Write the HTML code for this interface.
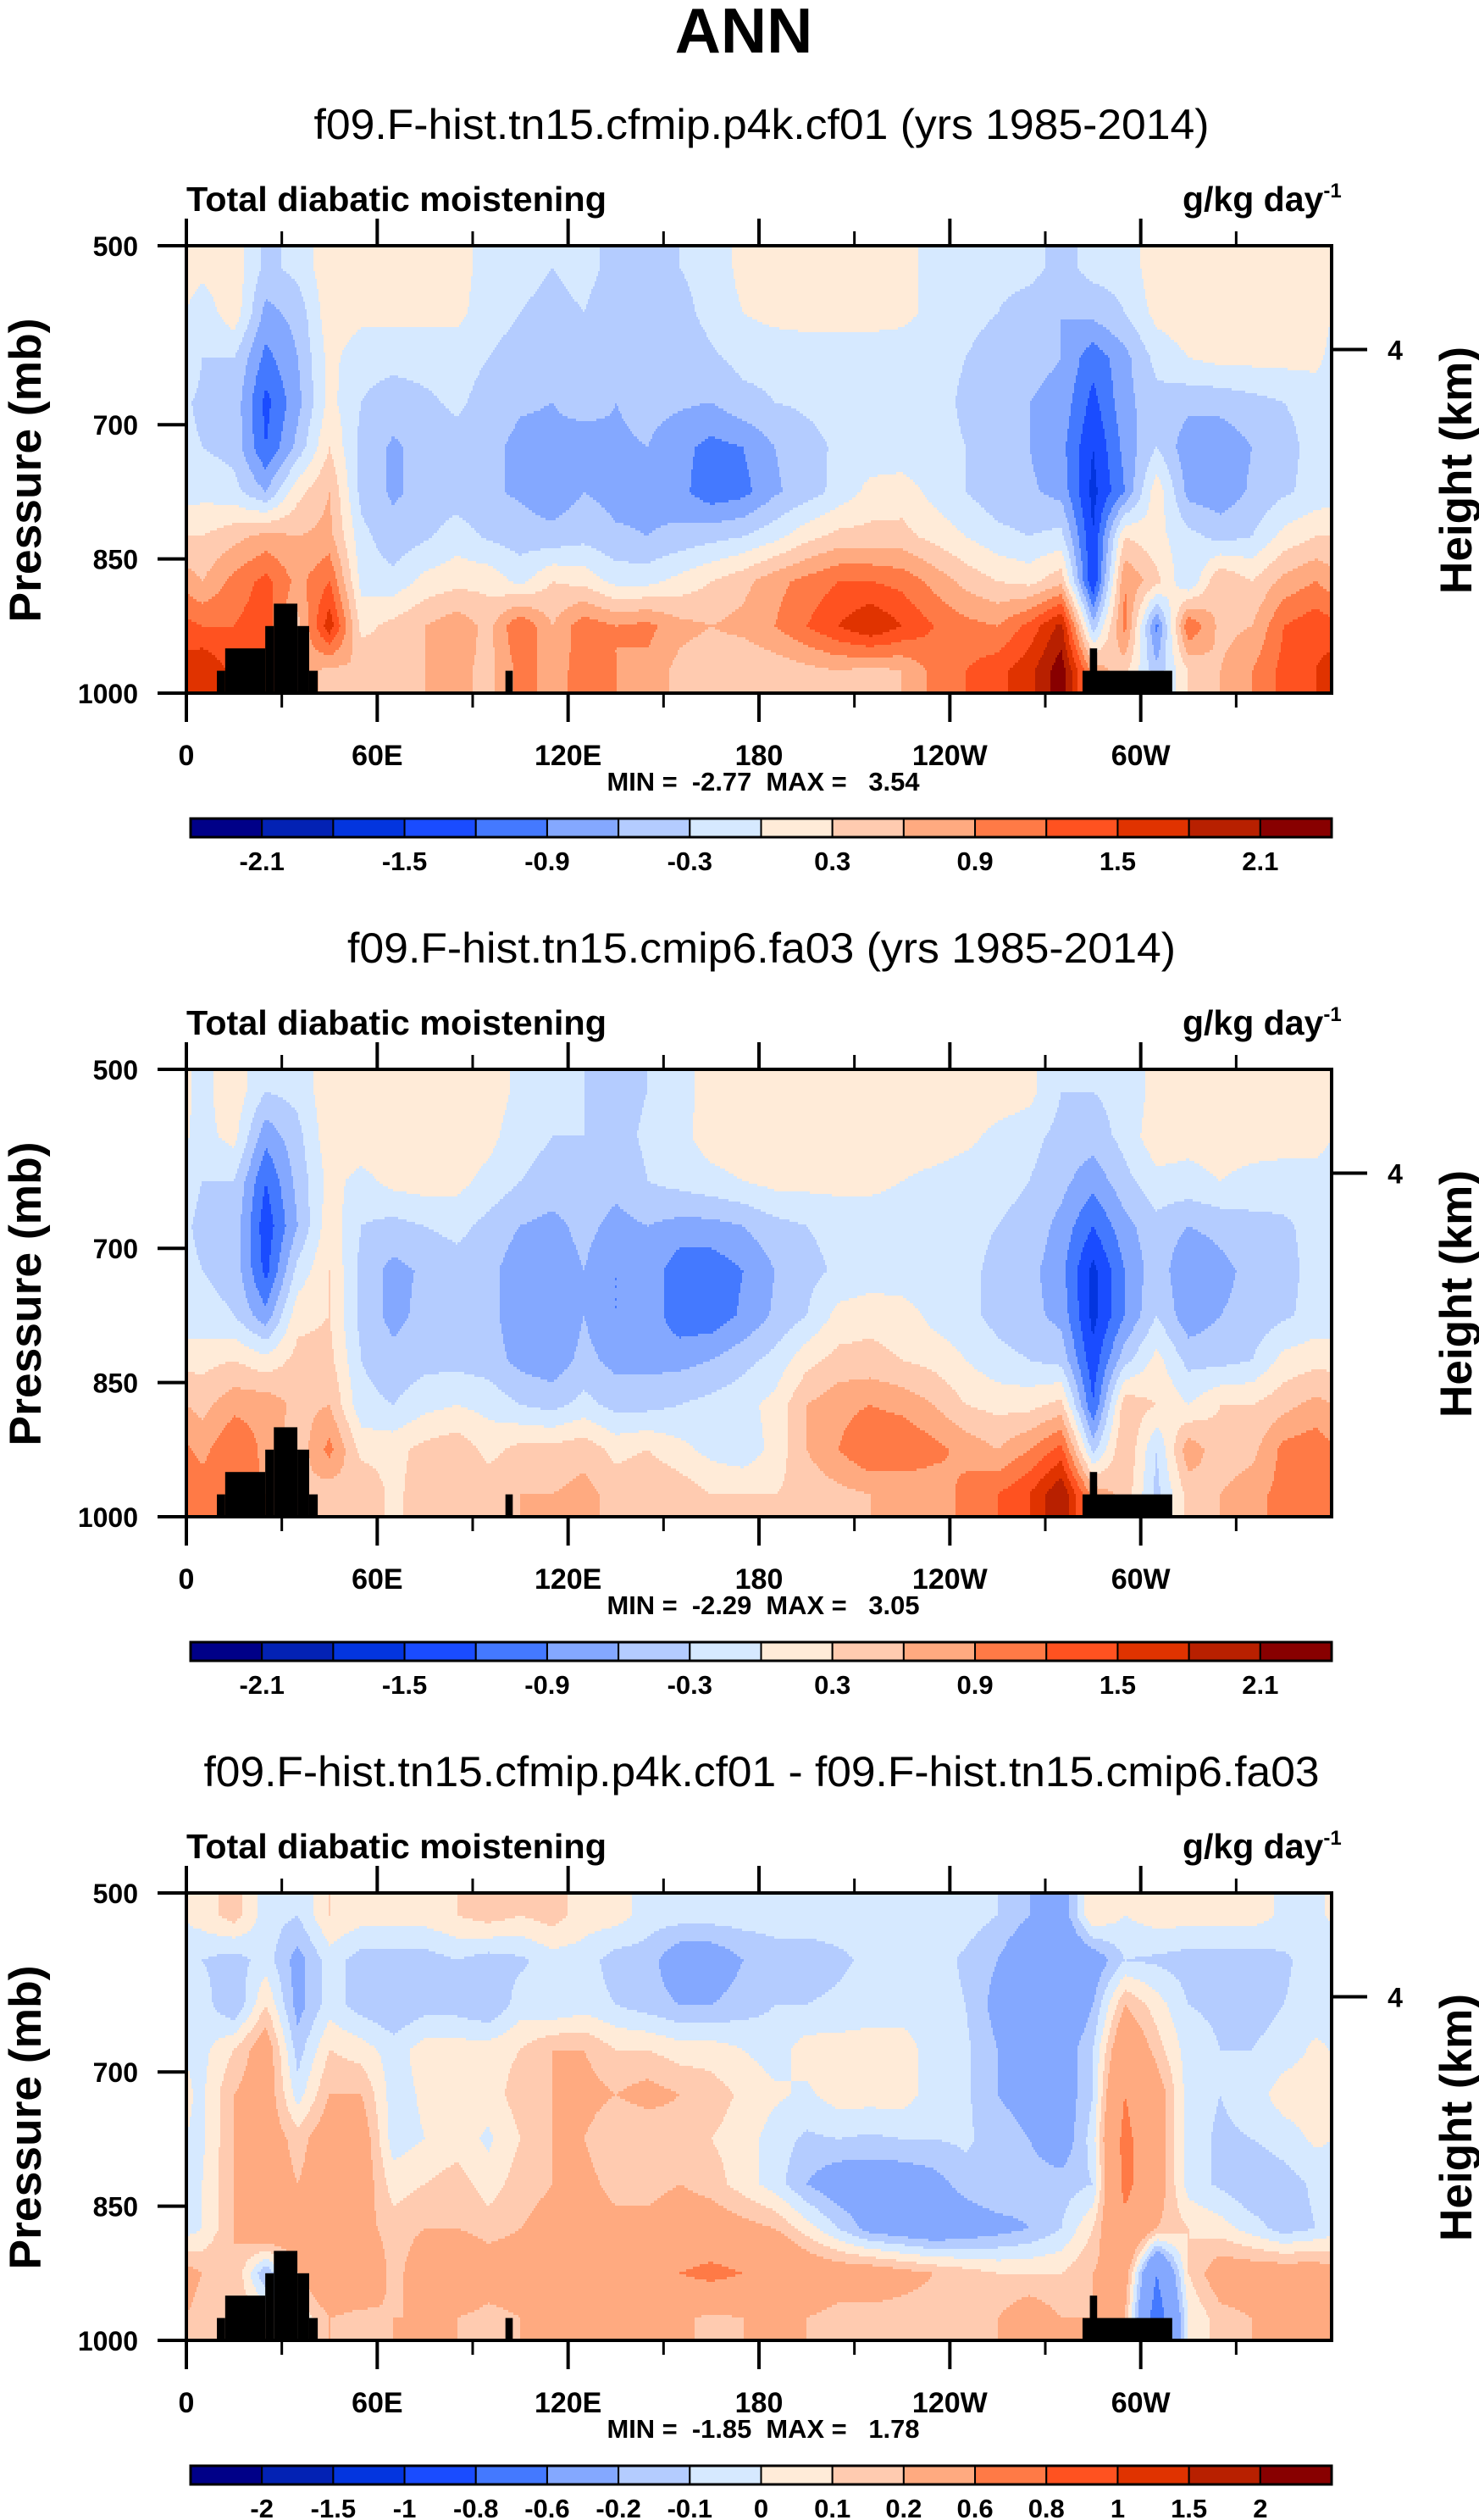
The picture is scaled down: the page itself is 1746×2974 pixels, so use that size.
<!DOCTYPE html>
<html>
<head>
<meta charset="utf-8">
<style>
html,body{margin:0;padding:0;background:#fff;}
svg{display:block;font-family:"Liberation Sans",Arial,sans-serif;}
.pre{white-space:pre;}
</style>
</head>
<body>
<svg id="fig" width="1746" height="2974" viewBox="0 0 1746 2974" xmlns="http://www.w3.org/2000/svg">
<rect x="0" y="0" width="1746" height="2974" fill="#fff"/>
<text x="878" y="62" text-anchor="middle" font-size="75" font-weight="bold">ANN</text>
</svg>
<script>
// ---- data ----
const lonTicksMajor = [0, 60, 120, 180, 240, 300];
const lonTickLabels = ["0", "60E", "120E", "180", "120W", "60W"];
const lonTicksMinor = [30, 90, 150, 210, 270, 330];
const presTicks = [500, 700, 850, 1000];
const heightTickP = [616];
const heightTickLabels = ["4"];

const levelsAbs = [-2.1,-1.8,-1.5,-1.2,-0.9,-0.6,-0.3,0,0.3,0.6,0.9,1.2,1.5,1.8,2.1];
const levelsAbsLabels = ["-2.1","","-1.5","","-0.9","","-0.3","","0.3","","0.9","","1.5","","2.1"];
const levelsDiff = [-2,-1.5,-1,-0.8,-0.6,-0.2,-0.1,0,0.1,0.2,0.6,0.8,1,1.5,2];
const levelsDiffLabels = ["-2","-1.5","-1","-0.8","-0.6","-0.2","-0.1","0","0.1","0.2","0.6","0.8","1","1.5","2"];
const palette = ["#000088","#0322B4","#0335DF","#1A4CFF","#4479FF","#84A8FF","#B4CCFF","#D6E9FF","#FFEBD8","#FFCBB0","#FFAA80","#FF7A46","#FF5220","#E03300","#B82000","#880000"];

// rows: 525,575,...,975 mb ; columns: lon centers 5,15,...,355
const p1Values = [
[0.1,0.2,-0.4,-0.2,0.2,0.2,0.2,0.2,0.2,-0.2,-0.2,-0.3,-0.2,-0.4,-0.4,-0.3,-0.2,0.1,0.2,0.2,0.2,0.2,0.2,-0.2,-0.2,-0.2,-0.2,-0.4,-0.2,-0.2,0.2,0.2,0.2,0.2,0.2,0.2],
[-0.2,0.2,-0.7,-0.5,0.2,0.1,0.1,0.1,0.1,-0.2,-0.3,-0.4,-0.3,-0.5,-0.3,-0.4,-0.2,0.0,0.1,0.15,0.15,0.15,0.1,-0.1,-0.2,-0.3,-0.45,-0.6,-0.5,-0.3,0.1,0.2,0.2,0.2,0.2,0.2],
[-0.3,-0.3,-1.0,-0.6,0.1,-0.2,-0.2,-0.2,-0.2,-0.3,-0.4,-0.5,-0.4,-0.6,-0.4,-0.5,-0.35,-0.2,-0.2,-0.2,-0.2,-0.2,-0.2,-0.2,-0.3,-0.45,-0.5,-0.6,-1.1,-0.7,-0.2,0.0,0.1,0.1,0.1,0.1],
[-0.35,-0.4,-1.3,-0.7,0.1,-0.3,-0.45,-0.35,-0.25,-0.4,-0.55,-0.6,-0.45,-0.6,-0.5,-0.55,-0.6,-0.4,-0.3,-0.25,-0.2,-0.2,-0.2,-0.2,-0.35,-0.5,-0.6,-0.7,-1.3,-0.7,-0.4,-0.5,-0.5,-0.4,-0.3,-0.2],
[-0.3,-0.4,-1.2,-0.5,0.3,-0.4,-0.65,-0.5,-0.4,-0.5,-0.7,-0.7,-0.8,-0.65,-0.6,-0.8,-1.0,-0.9,-0.6,-0.4,-0.25,-0.2,-0.2,-0.2,-0.3,-0.5,-0.6,-0.8,-1.5,-0.8,-0.3,-0.8,-0.8,-0.6,-0.4,-0.2],
[-0.1,-0.2,-0.6,0.2,0.6,-0.4,-0.65,-0.5,-0.45,-0.55,-0.65,-0.8,-0.6,-0.7,-0.7,-0.8,-1.1,-1.0,-0.65,-0.45,-0.2,0.1,0.15,-0.1,-0.3,-0.5,-0.55,-0.7,-1.6,-0.9,0.2,-0.7,-0.8,-0.55,-0.35,-0.2],
[0.3,0.5,0.7,0.6,0.7,-0.2,-0.5,-0.35,-0.15,-0.35,-0.45,-0.5,-0.4,-0.55,-0.6,-0.5,-0.4,-0.3,-0.1,0.2,0.4,0.4,0.4,0.2,0.0,-0.2,-0.3,-0.2,-1.5,0.3,0.1,-0.2,-0.4,-0.3,0.1,0.3],
[0.6,1.0,1.3,0.8,1.2,-0.1,-0.2,0.1,0.2,0.2,-0.1,0.3,0.2,-0.1,-0.1,0.1,0.3,0.5,0.8,1.0,1.2,1.2,1.1,0.8,0.5,0.3,0.2,0.5,-1.5,0.9,0.4,-0.3,0.6,0.3,0.7,0.9],
[1.2,1.2,1.4,0.5,1.7,0.2,0.4,0.6,0.8,0.5,1.2,0.6,1.1,0.9,1.0,0.7,0.6,0.7,0.9,1.2,1.5,1.8,1.5,1.2,1.0,0.9,1.3,1.9,-0.5,1.0,-1.0,1.2,0.5,0.6,1.2,1.4],
[1.8,1.4,1.0,0.8,0.5,0.6,0.3,0.6,0.7,0.5,1.0,0.8,1.0,0.9,0.8,0.5,0.4,0.3,0.4,0.5,0.6,0.5,0.6,1.0,1.2,1.4,1.7,2.3,0.8,0.4,-0.5,0.3,0.6,0.9,1.3,1.5]
];
const p2Values = [
[-0.1,0.2,-0.3,-0.2,0.2,0.2,0.2,0.2,0.2,0.2,-0.1,-0.3,-0.3,-0.4,-0.3,-0.1,0.1,0.2,0.2,0.2,0.2,0.2,0.2,0.2,0.2,0.2,0.1,-0.3,-0.3,-0.2,0.1,0.2,0.2,0.2,0.2,0.2],
[-0.1,0.1,-0.8,-0.4,0.2,0.2,0.2,0.2,0.2,0.1,-0.2,-0.3,-0.3,-0.4,-0.25,-0.1,0.15,0.2,0.2,0.2,0.2,0.2,0.2,0.2,0.1,-0.1,-0.2,-0.4,-0.45,-0.2,0.2,0.1,0.15,0.15,0.15,0.15],
[-0.3,-0.3,-1.2,-0.5,0.1,-0.1,0.1,0.15,0.1,-0.1,-0.3,-0.4,-0.4,-0.5,-0.3,-0.2,-0.1,0.0,0.1,0.1,0.1,0.1,0.0,-0.1,-0.2,-0.2,-0.3,-0.5,-0.8,-0.4,-0.1,-0.1,0.0,-0.1,-0.15,-0.15],
[-0.35,-0.4,-1.4,-0.6,0.2,-0.3,-0.4,-0.3,-0.2,-0.4,-0.6,-0.7,-0.5,-0.7,-0.6,-0.7,-0.7,-0.6,-0.4,-0.3,-0.2,-0.2,-0.2,-0.2,-0.2,-0.3,-0.4,-0.7,-1.2,-0.7,-0.4,-0.6,-0.5,-0.4,-0.35,-0.2],
[-0.3,-0.4,-1.3,-0.2,0.3,-0.4,-0.7,-0.55,-0.45,-0.5,-0.8,-0.8,-0.6,-0.9,-0.7,-1.1,-1.1,-0.9,-0.6,-0.4,-0.25,-0.2,-0.2,-0.2,-0.2,-0.4,-0.5,-0.8,-1.6,-0.9,-0.4,-0.9,-0.7,-0.5,-0.4,-0.2],
[-0.2,-0.3,-0.8,0.2,0.3,-0.4,-0.7,-0.5,-0.45,-0.5,-0.8,-0.9,-0.6,-0.9,-0.7,-1.1,-1.1,-0.85,-0.55,-0.3,0.1,0.2,0.15,-0.1,-0.2,-0.4,-0.5,-0.7,-1.6,-0.9,-0.3,-0.8,-0.6,-0.5,-0.35,-0.2],
[0.2,0.3,0.1,0.4,0.4,-0.3,-0.5,-0.4,-0.4,-0.45,-0.7,-0.8,-0.5,-0.7,-0.7,-0.7,-0.6,-0.4,-0.2,0.2,0.4,0.4,0.3,0.2,0.0,-0.2,-0.3,-0.4,-1.4,-0.4,0.1,-0.4,-0.4,-0.3,0.1,0.2],
[0.5,0.8,0.8,0.5,0.6,-0.2,-0.3,-0.1,0.0,-0.1,-0.3,-0.4,-0.2,-0.4,-0.4,-0.3,-0.2,-0.1,0.1,0.6,0.8,0.9,0.8,0.6,0.3,0.2,0.2,0.4,-1.2,0.5,0.3,0.0,0.3,0.3,0.5,0.7],
[0.8,1.2,0.8,0.4,1.0,0.2,0.2,0.4,0.5,0.2,0.4,0.4,0.5,0.2,0.3,0.1,-0.1,-0.2,0.1,0.6,0.9,1.2,1.2,1.0,0.8,0.6,0.9,1.3,-0.4,0.6,-0.3,0.8,0.4,0.5,1.0,1.1],
[1.1,1.0,0.9,0.6,0.4,0.6,0.2,0.5,0.6,0.5,0.6,0.6,0.7,0.5,0.6,0.5,0.3,0.3,0.3,0.4,0.5,0.6,0.6,0.7,1.0,1.2,1.5,2.1,0.8,0.5,-0.4,0.4,0.6,0.8,1.0,1.1]
];
const p3Values = [
[0.05,0.15,-0.05,-0.1,0.1,0.05,0.05,0.05,0.1,0.15,0.1,0.15,0.05,0.05,-0.05,-0.05,-0.05,-0.05,-0.05,-0.05,-0.05,-0.05,-0.05,-0.05,-0.05,-0.1,-0.2,-0.3,0.1,0.0,0.05,0.05,0.05,0.05,-0.02,-0.02],
[-0.1,-0.15,-0.05,-0.25,-0.05,-0.15,-0.15,-0.15,-0.1,-0.15,-0.12,-0.05,-0.05,-0.15,-0.15,-0.3,-0.3,-0.2,-0.15,-0.15,-0.12,-0.08,-0.05,-0.05,-0.12,-0.2,-0.35,-0.4,-0.3,-0.1,-0.12,-0.15,-0.15,-0.15,-0.12,-0.05],
[-0.05,-0.2,0.1,-0.25,-0.05,-0.15,-0.2,-0.15,-0.15,-0.2,-0.05,-0.1,-0.05,-0.1,-0.15,-0.2,-0.2,-0.15,-0.1,-0.1,-0.08,-0.05,-0.05,-0.05,-0.1,-0.25,-0.3,-0.4,-0.2,0.2,0.05,-0.1,-0.12,-0.15,-0.1,-0.05],
[-0.03,0.1,0.3,-0.15,0.1,0.05,-0.05,0.05,0.05,0.05,0.1,0.2,0.2,0.1,0.1,0.05,0.05,0.0,-0.05,0.05,0.05,0.05,0.05,-0.05,-0.08,-0.2,-0.3,-0.3,-0.1,0.4,0.15,-0.05,-0.1,-0.1,-0.05,0.02],
[-0.02,0.2,0.3,-0.05,0.2,0.2,-0.05,0.02,0.05,0.05,0.15,0.2,0.25,0.2,0.25,0.2,0.15,0.08,0.02,-0.02,0.05,0.05,0.05,-0.05,-0.08,-0.2,-0.25,-0.3,-0.1,0.6,0.3,-0.05,-0.1,-0.05,0.05,0.05],
[-0.02,0.2,0.3,0.15,0.3,0.3,-0.05,0.0,0.05,-0.02,0.1,0.2,0.2,0.1,0.1,0.15,0.1,0.05,-0.05,-0.12,-0.1,-0.12,-0.1,-0.1,-0.08,-0.15,-0.2,-0.3,-0.05,0.7,0.3,-0.05,-0.12,-0.1,-0.05,0.02],
[0.0,0.2,0.3,0.2,0.3,0.3,0.05,0.1,0.15,0.05,0.15,0.2,0.25,0.15,0.15,0.2,0.15,0.05,-0.05,-0.2,-0.3,-0.3,-0.3,-0.25,-0.15,-0.1,-0.15,-0.15,-0.1,0.7,0.3,-0.05,-0.12,-0.2,-0.15,-0.08],
[0.0,0.2,0.4,0.3,0.3,0.25,0.15,0.2,0.2,0.15,0.2,0.25,0.3,0.25,0.25,0.3,0.3,0.25,0.2,0.05,-0.1,-0.25,-0.3,-0.35,-0.3,-0.25,-0.2,-0.1,0.1,0.5,0.2,0.1,0.05,-0.05,-0.15,-0.1],
[0.2,0.2,-0.2,0.2,0.4,0.4,0.15,0.3,0.4,0.3,0.3,0.3,0.4,0.35,0.5,0.6,0.7,0.6,0.5,0.35,0.3,0.3,0.25,0.2,0.15,0.1,0.1,0.1,0.2,0.3,-0.6,0.1,0.3,0.3,0.3,0.3],
[0.15,0.2,0.1,0.0,0.2,0.15,0.2,0.2,0.2,0.15,0.2,0.2,0.3,0.25,0.3,0.25,0.15,0.2,0.2,0.2,0.15,0.15,0.15,0.15,0.15,0.2,0.3,0.2,0.2,0.2,-0.8,0.0,0.15,0.2,0.25,0.25]
];
// topography mask segments: lon start, lon end, top pressure (mb)
const maskLonStart = [9.6, 12.2, 24.8, 27.5, 34.9, 38.6, 100.3, 281.7, 284.0];
const maskLonEnd   = [12.2, 24.8, 27.5, 34.9, 38.6, 41.3, 102.6, 309.9, 286.3];
const maskTopP     = [975, 950, 925, 900, 925, 975, 975, 975, 950];

const panelTitles = ["f09.F-hist.tn15.cfmip.p4k.cf01 (yrs 1985-2014)","f09.F-hist.tn15.cmip6.fa03 (yrs 1985-2014)","f09.F-hist.tn15.cfmip.p4k.cf01 - f09.F-hist.tn15.cmip6.fa03"];
const panelMins = ["-2.77","-2.29","-1.85"];
const panelMaxs = ["3.54","3.05","1.78"];

// ---- rendering ----
const NS = "http://www.w3.org/2000/svg";
const svg = document.getElementById('fig');
const X0 = 220, X1 = 1572;
function mk(tag, attrs, parent){const e=document.createElementNS(NS,tag);for(const k in attrs)e.setAttribute(k,attrs[k]);(parent||svg).appendChild(e);return e;}

function drawPanel(idx, V, levels, labels, titleW){
  const dy = idx*972;
  const Y0 = 290+dy, Y1 = 818+dy;
  const xS = lon => X0 + lon/360*(X1-X0);
  const yS = p => Y0 + (p-500)/500*(Y1-Y0);
  const pFromY = y => 500 + (y-Y0)/(Y1-Y0)*500;
  const colorIdx = v => {let k=0; for(const l of levels){ if(v>=l) k++; } return k;};
  const interp = (lon,p) => {
    let fc = lon/10-0.5; let c0=Math.floor(fc); const t=fc-c0;
    const ca=((c0%36)+36)%36, cb=(ca+1)%36;
    let fr=(p-500)/50-0.5; fr=Math.max(0,Math.min(9,fr));
    let r0=Math.min(8,Math.floor(fr)); const s=fr-r0;
    const a=V[r0][ca]*(1-t)+V[r0][cb]*t, b=V[r0+1][ca]*(1-t)+V[r0+1][cb]*t;
    return a*(1-s)+b*s;
  };
  const g = mk('g',{});
  
  
  const W = X1-X0, sy=3, sx=2;
  for(let y=Y0; y<Y1; y+=sy){
    const p = pFromY(y+sy/2);
    let runStart=X0, runC=-1;
    for(let x=X0; x<=X1; x+=sx){
      let c = -2;
      if(x<X1){ const lon=(x+sx/2-X0)/W*360; c=colorIdx(interp(lon,p)); }
      if(c!==runC){
        if(runC>=0){ mk('rect',{x:runStart,y:y,width:x-runStart+0.6,height:sy+0.6,fill:palette[runC]},g); }
        runStart=x; runC=c;
      }
    }
  }
  for(let i=0;i<maskLonStart.length;i++){
    const r = mk('rect',{x:xS(maskLonStart[i]),y:yS(maskTopP[i]),width:xS(maskLonEnd[i])-xS(maskLonStart[i]),height:Y1-yS(maskTopP[i]),fill:'#000'});
    
    
  }
  const fr = mk('rect',{x:X0,y:Y0,width:X1-X0,height:Y1-Y0,fill:'none',stroke:'#000','stroke-width':4});
  
  
  lonTicksMajor.forEach((lon,i)=>{
    const x=xS(lon);
    mk('line',{x1:x,y1:Y0,x2:x,y2:Y0-32,stroke:'#000','stroke-width':4});
    mk('line',{x1:x,y1:Y1,x2:x,y2:Y1+34,stroke:'#000','stroke-width':4});
    const t=mk('text',{x:x,y:Y1+85,'text-anchor':'middle','font-size':34,'font-weight':'bold'});
    t.textContent=lonTickLabels[i];
    
    
  });
  lonTicksMinor.forEach(lon=>{
    const x=xS(lon);
    mk('line',{x1:x,y1:Y0,x2:x,y2:Y0-17,stroke:'#000','stroke-width':3});
    mk('line',{x1:x,y1:Y1,x2:x,y2:Y1+17,stroke:'#000','stroke-width':3});
  });
  presTicks.forEach(p=>{
    const y=yS(p);
    mk('line',{x1:X0,y1:y,x2:X0-34,y2:y,stroke:'#000','stroke-width':4});
    const t=mk('text',{x:163,y:y+12,'text-anchor':'end','font-size':32,'font-weight':'bold'});
    t.textContent=String(p);
    
    
  });
  heightTickP.forEach((p,i)=>{
    const y=yS(p);
    mk('line',{x1:X1,y1:y,x2:X1+42,y2:y,stroke:'#000','stroke-width':4});
    const t=mk('text',{x:1647,y:y+12,'text-anchor':'middle','font-size':32,'font-weight':'bold'});
    t.textContent=heightTickLabels[i];
    
    
  });
  const st=mk('text',{x:899,y:164+dy,'text-anchor':'middle','font-size':50,textLength:titleW,lengthAdjust:'spacingAndGlyphs'});
  st.textContent=panelTitles[idx];
  
  
  const lt=mk('text',{x:220,y:249+dy,'font-size':41,'font-weight':'bold',textLength:496,lengthAdjust:'spacingAndGlyphs'});
  lt.textContent='Total diabatic moistening';
  
  
  const ut=mk('text',{x:1396,y:249+dy,'font-size':41,'font-weight':'bold'});
  ut.innerHTML='g/kg day<tspan dy="-16" font-size="24">-1</tspan>';
  
  
  const pa=mk('text',{transform:`translate(48,${555+dy}) rotate(-90)`,'text-anchor':'middle','font-size':53,'font-weight':'bold',textLength:359,lengthAdjust:'spacingAndGlyphs'});
  pa.textContent='Pressure (mb)';
  
  
  const ha=mk('text',{transform:`translate(1737,${555+dy}) rotate(-90)`,'text-anchor':'middle','font-size':53,'font-weight':'bold',textLength:292,lengthAdjust:'spacingAndGlyphs'});
  ha.textContent='Height (km)';
  
  
  const mm=mk('text',{x:901,y:933+dy,'text-anchor':'middle','font-size':31,'font-weight':'bold',textLength:369,lengthAdjust:'spacingAndGlyphs','class':'pre'});
  mm.textContent='MIN =  '+panelMins[idx]+'  MAX =   '+panelMaxs[idx];
  
  
  const cb=mk('g',{});
  
  
  const CX0=225, CX1=1572, CY0=966+dy, CY1=988+dy, bw=(CX1-CX0)/16;
  for(let i=0;i<16;i++){
    mk('rect',{x:CX0+i*bw,y:CY0,width:bw,height:CY1-CY0,fill:palette[i],stroke:'#000','stroke-width':2},cb);
  }
  mk('rect',{x:CX0,y:CY0,width:CX1-CX0,height:CY1-CY0,fill:'none',stroke:'#000','stroke-width':3},cb);
  labels.forEach((lab,i)=>{
    if(!lab) return;
    const t=mk('text',{x:CX0+(i+1)*bw,y:1027+dy,'text-anchor':'middle','font-size':31,'font-weight':'bold'},cb);
    t.textContent=lab;
    
    
  });
}
drawPanel(0, p1Values, levelsAbs, levelsAbsLabels, 1057);
drawPanel(1, p2Values, levelsAbs, levelsAbsLabels, 978);
drawPanel(2, p3Values, levelsDiff, levelsDiffLabels, 1317);
</script>
</body>
</html>
